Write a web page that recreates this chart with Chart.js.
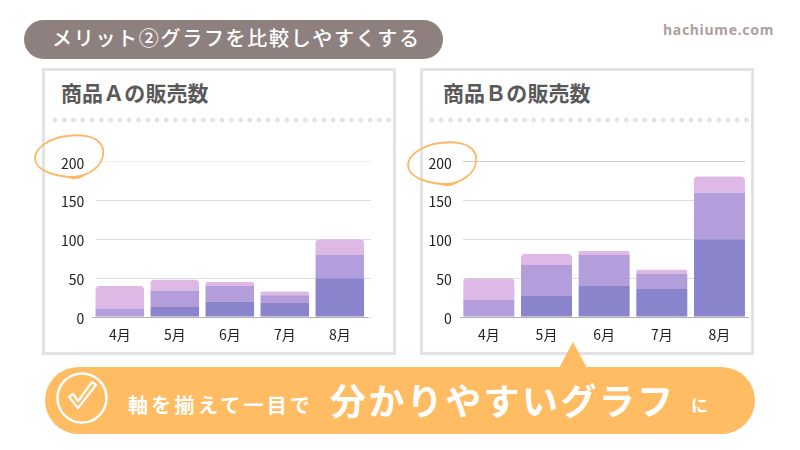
<!DOCTYPE html>
<html lang="ja">
<head>
<meta charset="utf-8">
<script src="https://cdn.jsdelivr.net/npm/chart.js@4"></script>
<style>
  html, body { margin: 0; padding: 0; background: #fff; }
  body { width: 800px; height: 450px; position: relative; overflow: hidden; font-family: "Noto Sans CJK JP", sans-serif; }
  .abs { position: absolute; white-space: nowrap; line-height: 1; }
  .pill { left: 24px; top: 20px; width: 419px; height: 39px; background: #8f8080; border-radius: 20px; }
  .pill-text { left: 52px; top: 28px; font-size: 20px; font-weight: 500; letter-spacing: 1.7px; color: #fff; }
  .site { left: 663px; top: 23px; font-size: 14px; font-weight: 700; letter-spacing: 0.7px; color: #ada0a0; font-family: "Noto Sans", sans-serif; }
  .panel { top: 68px; height: 281px; border: 3px solid #e3e3e3; }
  .panel-title { top: 82px; font-size: 21px; font-weight: 700; color: #595959; letter-spacing: 0.1px; }
  canvas { position: absolute; top: 140px; }
  .callout { left: 45px; top: 367px; width: 710px; height: 67px; background: #ffbc62; border-radius: 34px; }
  .white { color: #fff; font-weight: 700; }
</style>
</head>
<body>
<div class="abs pill"></div>
<div class="abs pill-text">メリット②グラフを比較しやすくする</div>
<div class="abs site">hachiume.com</div>

<div class="abs panel" style="left:42px;width:348px"></div>
<div class="abs panel" style="left:420px;width:328px"></div>
<div class="abs panel-title" style="left:61px">商品Ａの販売数</div>
<div class="abs panel-title" style="left:443px">商品Ｂの販売数</div>

<canvas id="chart-a" width="348" height="212" style="left:45px"></canvas>
<canvas id="chart-b" width="328" height="212" style="left:423px"></canvas>

<div class="abs callout"></div>
<div class="abs white" style="left:128px;top:395px;font-size:20px;letter-spacing:3.3px">軸を揃えて一目で</div>
<div class="abs white" style="left:330px;top:381px;font-size:36px;letter-spacing:2.4px">分かりやすいグラフ</div>
<div class="abs white" style="left:691px;top:396px;font-size:17px">に</div>

<svg class="abs" style="left:0;top:0" width="800" height="450" viewBox="0 0 800 450">
  <line x1="55" y1="120" x2="389" y2="120" stroke="#e4e4e4" stroke-width="5" stroke-linecap="round" stroke-dasharray="0 9.27"/>
  <line x1="432" y1="120" x2="747" y2="120" stroke="#e4e4e4" stroke-width="5" stroke-linecap="round" stroke-dasharray="0 9.25"/>
  <polygon points="573,342 559,368 587,368" fill="#ffbc62"/>
  <g fill="none" stroke="#fbb868" stroke-width="1.8" stroke-linecap="round">
    <g transform="translate(69,157)">
      <path d="M32 -12C28 -21 12 -23 -2 -21C-20 -19 -35 -8 -34 2C-33 13 -15 20 5 20C20 19 33 9 34 -2C35 -8 33 -12 30 -15"/>
      <path d="M14 19C10 21 4 22 -1 20"/>
    </g>
    <g transform="translate(442,164)">
      <path d="M32 -12C28 -21 12 -23 -2 -21C-20 -19 -35 -8 -34 2C-33 13 -15 20 5 20C20 19 33 9 34 -2C35 -8 33 -12 30 -15"/>
      <path d="M14 19C10 21 4 22 -1 20"/>
    </g>
  </g>
  <g fill="none" stroke="#fff">
    <circle cx="82" cy="398" r="24.5" stroke-width="2.5"/>
    <path d="M69 397L78 408L96 385L92 382L78 401L73 394Z" stroke-width="2.2" stroke-linejoin="round"/>
  </g>
</svg>

<script>
const months = ['4月', '5月', '6月', '7月', '8月'];
const yTicks = [0, 50, 100, 150, 200];

// 積み上げの各段（下から）
const productA1 = [0, 13, 20, 18, 50];
const productA2 = [11, 21, 20, 10, 30];
const productA3 = [29, 14, 5, 5, 20];

const productB1 = [0, 27, 40, 36, 100];
const productB2 = [22, 40, 40, 20, 60];
const productB3 = [28, 14, 5, 5, 21];

const colors = { dark: '#8984cc', mid: '#b49ddb', light: '#deb9e6' };

function stackedChart(id, stacks, frame) {
  const radius = { topLeft: 4, topRight: 4, bottomLeft: 0, bottomRight: 0 };
  const common = { barPercentage: frame.barPercentage, categoryPercentage: 1, borderWidth: 0 };
  return new Chart(document.getElementById(id), {
    type: 'bar',
    data: {
      labels: months,
      datasets: [
        { data: stacks[0], backgroundColor: colors.dark, ...common },
        { data: stacks[1], backgroundColor: colors.mid, ...common },
        { data: stacks[2], backgroundColor: colors.light, borderRadius: radius, borderSkipped: 'bottom', ...common },
      ],
    },
    options: {
      responsive: false,
      animation: false,
      layout: { padding: { top: 21.7, right: frame.paddingRight, bottom: 0, left: 0 } },
      plugins: { legend: { display: false }, tooltip: { enabled: false } },
      scales: {
        x: {
          stacked: true,
          afterFit: (s) => { s.height = 35; },
          grid: { display: false },
          border: { color: '#b0b0b0', z: 1 },
          ticks: { color: '#222', padding: 1, maxRotation: 0, font: { family: '"Noto Sans CJK JP"', size: 14 } },
        },
        y: {
          stacked: true,
          min: 0,
          max: 200,
          afterBuildTicks: (s) => { s.ticks = yTicks.map((value) => ({ value })); },
          afterFit: (s) => { s.width = frame.yWidth; },
          border: { display: false },
          grid: {
            drawTicks: false,
            color: (ctx) => (ctx.tick.value === 200 ? frame.topGrid : '#dedede'),
          },
          ticks: { color: '#222', padding: 11.5, font: { family: '"Noto Sans CJK JP"', size: 14 } },
        },
      },
    },
    plugins: [{
      // 棒の並びはグリッド線の範囲より少しずれているので x 軸の範囲だけ動かす
      id: 'xRange',
      afterLayout(chart) {
        const x = chart.scales.x;
        x.left = frame.xLeft;
        x.right = frame.xRight;
        x.width = frame.xRight - frame.xLeft;
        x.configure();
      },
      // y 軸の数字は線より少し下に置かれている
      beforeDraw(chart) {
        chart.scales.y.getLabelItems().forEach((item) => { item.options.translation[1] += 1.5; });
      },
    }],
  });
}

stackedChart('chart-a', [productA1, productA2, productA3], {
  barPercentage: 0.882, paddingRight: 22, yWidth: 50.7, xLeft: 47.3, xRight: 322.3, topGrid: '#eeeeee',
});
stackedChart('chart-b', [productB1, productB2, productB3], {
  barPercentage: 0.884, paddingRight: 6, yWidth: 40.3, xLeft: 37, xRight: 325.3, topGrid: '#c9c9c9',
});
</script>
</body>
</html>
